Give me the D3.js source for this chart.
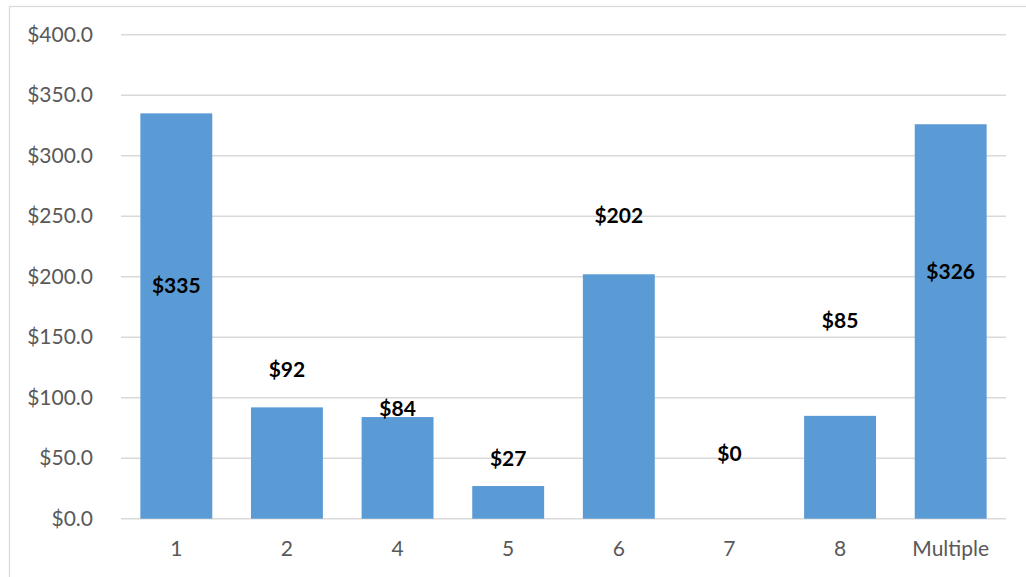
<!DOCTYPE html>
<html>
<head>
<meta charset="utf-8">
<script src="https://cdn.jsdelivr.net/npm/d3@7"></script>
<style>
  body { margin: 0; background: #fff; }
  svg { display: block; font-family: Lato, "Open Sans", sans-serif; }
</style>
</head>
<body>
<svg width="1026" height="577"></svg>
<script>
// data
var categories = ["1", "2", "4", "5", "6", "7", "8", "Multiple"];
var values = [335, 92, 84, 27, 202, 0, 85, 326];
// where each value label sits, in $ units (labels were moved by hand in the original)
var labelAt = [193, 123, 91, 50, 251, 54, 164, 204];
var yTicks = [0, 50, 100, 150, 200, 250, 300, 350, 400];

var svg = d3.select("svg"),
	margin = {top: 34.7, right: 20, bottom: 58.3, left: 121},
	width = +svg.attr("width") - margin.left - margin.right,
	height = +svg.attr("height") - margin.top - margin.bottom;

// outer chart border
svg.append("rect")
	.attr("x", 9.5).attr("y", 6.5)
	.attr("width", 1040).attr("height", 600)
	.attr("fill", "none")
	.attr("stroke", "#d9d9d9")
	.attr("stroke-width", 1.2);

var g = svg.append("g")
	.attr("transform", "translate(" + margin.left + "," + margin.top + ")");

var x = d3.scaleBand()
	.domain(categories)
	.range([0, 885])
	.paddingInner(0.35)
	.paddingOuter(0.175);

var y = d3.scaleLinear()
	.domain([0, 400])
	.range([height, 0]);

// gridlines
g.append("g")
	.selectAll("line")
	.data(yTicks)
	.join("line")
	.attr("x1", 0).attr("x2", 885)
	.attr("y1", function(d) { return y(d); })
	.attr("y2", function(d) { return y(d); })
	.attr("stroke", "#d9d9d9")
	.attr("stroke-width", 1.5);

// y axis labels
var yAxis = g.append("g")
	.call(d3.axisLeft(y).tickValues(yTicks).tickSize(0).tickPadding(28)
		.tickFormat(function(d) { return "$" + d3.format(".1f")(d); }));
yAxis.select(".domain").remove();
yAxis.attr("font-family", null).attr("font-size", null);
yAxis.selectAll("text")
	.attr("fill", "#595959")
	.style("font-family", "Lato, sans-serif")
	.style("font-size", "21px");

// x axis labels
var xAxis = g.append("g")
	.attr("transform", "translate(0," + height + ")")
	.call(d3.axisBottom(x).tickSize(0).tickPadding(22));
xAxis.select(".domain").remove();
xAxis.attr("font-family", null).attr("font-size", null);
xAxis.selectAll("text")
	.attr("fill", "#595959")
	.style("font-family", "Lato, sans-serif")
	.style("font-size", "21px");

// bars
g.selectAll(".bar")
	.data(values)
	.join("rect")
	.attr("class", "bar")
	.attr("x", function(d, i) { return x(categories[i]); })
	.attr("width", x.bandwidth())
	.attr("y", function(d) { return y(d); })
	.attr("height", function(d) { return height - y(d); })
	.attr("fill", "#5b9bd5");

// value labels
g.selectAll(".lbl")
	.data(values)
	.join("text")
	.attr("class", "lbl")
	.attr("x", function(d, i) { return x(categories[i]) + x.bandwidth() / 2; })
	.attr("y", function(d, i) { return y(labelAt[i]); })
	.attr("dy", "0.36em")
	.attr("text-anchor", "middle")
	.attr("fill", "#000")
	.style("font-size", "21px")
	.style("font-weight", "bold")
	.text(function(d) { return "$" + d3.format(".0f")(d); });
</script>
</body>
</html>
